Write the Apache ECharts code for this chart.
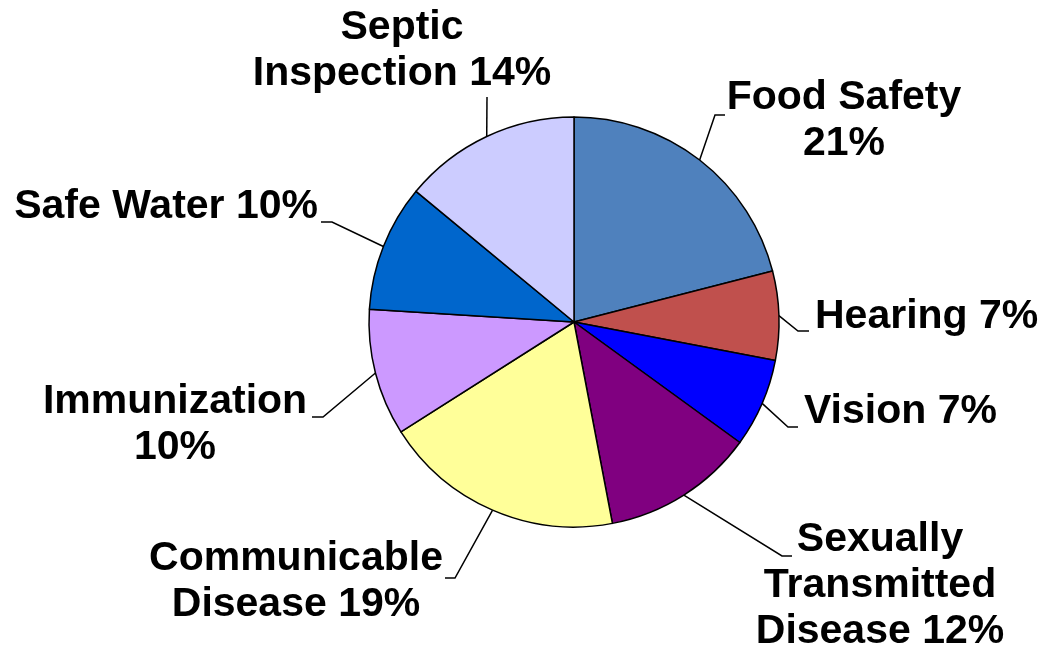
<!DOCTYPE html>
<html><head><meta charset="utf-8">
<script src="https://cdn.jsdelivr.net/npm/echarts@6/dist/echarts.min.js"></script>
<style>html,body{margin:0;padding:0;background:#fff}#c{width:1043px;height:654px}</style>
</head><body><div id="c"></div>
<script>
// ---- data ----
const categories = ['Food Safety', 'Hearing', 'Vision', 'Sexually Transmitted Disease', 'Communicable Disease', 'Immunization', 'Safe Water', 'Septic Inspection'];
const shares = [21, 7, 7, 12, 19, 10, 10, 14];
const labelPrefixes = ['Food Safety\n', 'Hearing ', 'Vision ', 'Sexually\nTransmitted\nDisease ', 'Communicable\nDisease ', 'Immunization\n', 'Safe Water ', 'Septic\nInspection '];
const colors = ['#4F81BD', '#C0504D', '#0000FF', '#800080', '#FFFF99', '#CC99FF', '#0066CC', '#CCCCFF'];

// ---- label placement (layout only) ----
const labelPlacement = [
  { x: 844, y: 75,  align: 'center', bend: [715, 115], end: [725, 115] },
  { x: 815, y: 294, align: 'left',   bend: [798, 331], end: [809, 331] },
  { x: 804, y: 389, align: 'left',   bend: [788, 427], end: [798, 427] },
  { x: 880, y: 517, align: 'center', bend: [782, 556], end: [792, 556] },
  { x: 296, y: 536, align: 'center', bend: [455, 578], end: [445, 578] },
  { x: 175, y: 379, align: 'center', bend: [323, 417], end: [312, 417] },
  { x: 318, y: 184, align: 'right',  bend: [332, 222], end: [321, 222] },
  { x: 402, y: 5,   align: 'center', bend: [487, 97],  end: [487, 97] }
];

const chart = echarts.init(document.getElementById('c'), null, { renderer: 'canvas' });
chart.setOption({
  backgroundColor: '#ffffff',
  animation: false,
  series: [{
    type: 'pie',
    center: [574, 322],
    radius: 205,
    startAngle: 90,
    clockwise: true,
    avoidLabelOverlap: false,
    minShowLabelAngle: 0,
    itemStyle: { borderColor: '#000000', borderWidth: 1.5 },
    label: {
      show: true,
      position: 'outside',
      width: 420,
      overflow: 'none',
      color: '#000000',
      fontFamily: '"Liberation Sans", Arial, sans-serif',
      fontWeight: 'bold',
      fontSize: 41,
      lineHeight: 46,
      formatter: function (p) { return labelPrefixes[p.dataIndex] + p.value + '%'; }
    },
    labelLine: { show: true, lineStyle: { color: '#000000', width: 1.5 } },
    labelLayout: function (params) {
      const pl = labelPlacement[params.dataIndex];
      const start = params.labelLinePoints ? params.labelLinePoints[0] : pl.bend;
      return {
        x: pl.x, y: pl.y, align: pl.align, verticalAlign: 'top',
        labelLinePoints: [start, pl.bend, pl.end]
      };
    },
    data: categories.map(function (name, i) {
      return { name: name, value: shares[i], itemStyle: { color: colors[i] } };
    })
  }]
});
</script></body></html>
